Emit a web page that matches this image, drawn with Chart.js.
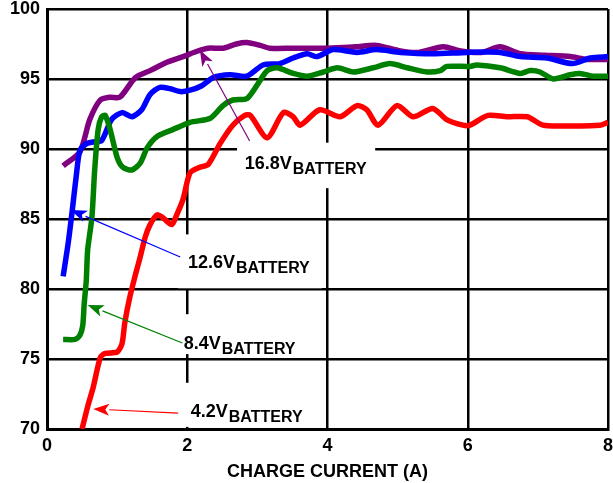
<!DOCTYPE html>
<html>
<head>
<meta charset="utf-8">
<script src="https://cdn.jsdelivr.net/npm/chart.js@4"></script>
<style>
  body { margin: 0; background: #fff; }
</style>
</head>
<body>
<canvas id="chart" width="613" height="483"></canvas>
<script>
// efficiency (%) vs charge current (A)
const xTicks = [0, 2, 4, 6, 8];
const yTicks = [70, 75, 80, 85, 90, 95, 100];

const current168 = [0.23, 0.47, 0.61, 0.76, 0.9, 1.04, 1.26, 1.47, 1.71, 1.94, 2.15, 2.3, 2.51, 2.7, 2.85, 3.04, 3.18, 3.5, 4.0, 4.4, 4.7, 5.04, 5.3, 5.65, 5.9, 6.2, 6.46, 6.75, 7.1, 7.46, 7.7, 8.0];
const eff168 = [88.8, 89.8, 92.1, 93.5, 93.7, 93.7, 95.1, 95.6, 96.2, 96.6, 97.0, 97.2, 97.2, 97.5, 97.6, 97.4, 97.2, 97.2, 97.2, 97.3, 97.4, 97.0, 96.9, 97.3, 97.0, 96.9, 97.3, 96.8, 96.7, 96.6, 96.4, 96.4];

const current126 = [0.23, 0.3, 0.36, 0.42, 0.47, 0.57, 0.66, 0.78, 0.92, 1.07, 1.21, 1.35, 1.47, 1.61, 1.76, 1.9, 2.04, 2.2, 2.37, 2.61, 2.85, 3.08, 3.32, 3.51, 3.71, 3.85, 4.08, 4.42, 4.7, 5.04, 5.5, 6.0, 6.46, 6.75, 7.13, 7.49, 7.75, 8.0];
const eff126 = [80.9, 83.2, 85.6, 88.2, 89.9, 90.4, 90.5, 90.6, 92.1, 92.6, 92.3, 92.8, 93.9, 94.4, 94.3, 94.1, 94.2, 94.5, 95.1, 95.3, 95.2, 96.0, 96.1, 96.5, 96.8, 96.6, 97.1, 96.9, 97.1, 96.9, 96.8, 96.9, 96.9, 96.6, 96.5, 96.1, 96.5, 96.6];

const current84 = [0.23, 0.4, 0.47, 0.51, 0.53, 0.56, 0.58, 0.64, 0.68, 0.73, 0.78, 0.83, 0.9, 1.0, 1.08, 1.21, 1.33, 1.43, 1.57, 1.8, 2.04, 2.33, 2.51, 2.65, 2.85, 3.0, 3.14, 3.28, 3.51, 3.71, 3.94, 4.14, 4.37, 4.65, 4.89, 5.14, 5.42, 5.61, 5.7, 6.03, 6.13, 6.46, 6.75, 6.89, 7.03, 7.22, 7.46, 7.6, 7.79, 8.0];
const eff84 = [76.4, 76.4, 76.7, 77.4, 78.9, 80.6, 82.8, 85.1, 88.5, 91.4, 92.3, 92.4, 91.4, 89.4, 88.7, 88.5, 89.0, 90.1, 90.9, 91.4, 91.9, 92.2, 93.1, 93.5, 93.6, 94.6, 95.6, 95.8, 95.4, 95.2, 95.5, 95.8, 95.5, 95.8, 96.1, 95.8, 95.5, 95.6, 95.9, 95.9, 96.0, 95.8, 95.4, 95.6, 95.5, 95.0, 95.3, 95.4, 95.2, 95.2];

const current42 = [0.5, 0.58, 0.66, 0.76, 0.83, 1.0, 1.07, 1.11, 1.18, 1.26, 1.33, 1.4, 1.47, 1.57, 1.65, 1.78, 1.85, 1.94, 2.04, 2.18, 2.3, 2.47, 2.65, 2.82, 2.9, 3.14, 3.37, 3.51, 3.61, 3.89, 4.18, 4.42, 4.56, 4.72, 4.99, 5.22, 5.5, 5.7, 5.93, 6.03, 6.29, 6.56, 6.85, 7.08, 7.89, 8.0];
const eff42 = [70.0, 71.6, 73.0, 75.1, 75.4, 75.5, 76.1, 77.6, 79.4, 81.0, 82.3, 83.7, 84.6, 85.3, 85.1, 84.6, 85.3, 86.4, 88.3, 88.7, 88.9, 90.4, 91.7, 92.4, 92.4, 90.8, 92.6, 92.3, 91.7, 92.8, 92.3, 93.1, 92.8, 91.7, 93.1, 92.3, 92.9, 92.1, 91.7, 91.7, 92.4, 92.3, 92.3, 91.7, 91.7, 91.9];

// callout labels: text, colour, box (data units), text start, arrow tail -> tip
const labelNames = ["16.8V", "12.6V", "8.4V", "4.2V"];
const labelColors = ["#800080", "#0000ff", "#008000", "#ff0000"];
const labelBoxes = [[2.71, 90.45, 4.68, 87.2], [1.87, 83.9, 3.92, 80.05], [1.87, 78.2, 3.75, 75.35], [1.9, 73.3, 3.8, 70.15]];
const labelAnchors = [[2.82, 88.57], [2.01, 81.5], [1.95, 75.7], [2.05, 70.85]];
const arrowTails = [[2.89, 90.57], [1.9, 82.29], [1.93, 76.14], [1.87, 71.14]];
const arrowTips = [[2.18, 97.07], [0.34, 85.64], [0.58, 78.86], [0.66, 71.43]];

function toPoints(xs, ys) {
  return xs.map((x, i) => ({ x: x, y: ys[i] }));
}

function makeSet(label, xs, ys, color) {
  return {
    label: label,
    data: toPoints(xs, ys),
    borderColor: color,
    borderWidth: 5.5,
    pointRadius: 0,
    tension: 0.25,
    borderJoinStyle: "round",
    fill: false,
  };
}

const calloutPlugin = {
  id: "callouts",
  beforeDatasetsDraw(chart) {
    const ctx = chart.ctx;
    const xs = chart.scales.x, ys = chart.scales.y;
    ctx.save();
    ctx.fillStyle = "#fff";
    labelBoxes.forEach((b) => {
      const x1 = xs.getPixelForValue(b[0]), y1 = ys.getPixelForValue(b[1]);
      const x2 = xs.getPixelForValue(b[2]), y2 = ys.getPixelForValue(b[3]);
      ctx.fillRect(x1, y1, x2 - x1, y2 - y1);
    });
    ctx.restore();
  },
  afterDatasetsDraw(chart) {
    const ctx = chart.ctx;
    const xs = chart.scales.x, ys = chart.scales.y;
    ctx.save();
    labelNames.forEach((name, i) => {
      const tx = xs.getPixelForValue(arrowTails[i][0]), ty = ys.getPixelForValue(arrowTails[i][1]);
      const hx = xs.getPixelForValue(arrowTips[i][0]), hy = ys.getPixelForValue(arrowTips[i][1]);
      const ang = Math.atan2(hy - ty, hx - tx);
      const len = 16, half = 6;
      const bx = hx - Math.cos(ang) * len, by = hy - Math.sin(ang) * len;
      ctx.strokeStyle = labelColors[i];
      ctx.fillStyle = labelColors[i];
      ctx.lineWidth = 1.2;
      ctx.beginPath();
      ctx.moveTo(tx, ty);
      ctx.lineTo(bx, by);
      ctx.stroke();
      ctx.beginPath();
      ctx.moveTo(hx, hy);
      ctx.lineTo(bx + Math.sin(ang) * half, by - Math.cos(ang) * half);
      ctx.lineTo(bx + Math.cos(ang) * 4, by + Math.sin(ang) * 4);
      ctx.lineTo(bx - Math.sin(ang) * half, by + Math.cos(ang) * half);
      ctx.closePath();
      ctx.fill();

      // text with subscript
      const lx = xs.getPixelForValue(labelAnchors[i][0]), ly = ys.getPixelForValue(labelAnchors[i][1]);
      ctx.fillStyle = "#000";
      ctx.textBaseline = "alphabetic";
      ctx.textAlign = "left";
      ctx.font = "bold 18px 'Liberation Sans', Arial, sans-serif";
      ctx.fillText(name, lx, ly);
      const w = ctx.measureText(name).width;
      ctx.font = "bold 16px 'Liberation Sans', Arial, sans-serif";
      ctx.fillText("BATTERY", lx + w + 1, ly + 5);
    });
    ctx.restore();
  },
};

const ctx = document.getElementById("chart").getContext("2d");
new Chart(ctx, {
  type: "line",
  data: {
    datasets: [
      makeSet("4.2V", current42, eff42, "#ff0000"),
      makeSet("8.4V", current84, eff84, "#008000"),
      makeSet("12.6V", current126, eff126, "#0000ff"),
      makeSet("16.8V", current168, eff168, "#800080"),
    ],
  },
  options: {
    responsive: false,
    animation: false,
    devicePixelRatio: 1,
    layout: { padding: { top: 9, right: 5, left: 0, bottom: 0 } },
    plugins: { legend: { display: false }, tooltip: { enabled: false } },
    scales: {
      x: {
        type: "linear",
        min: 0,
        max: 8,
        afterFit: (s) => {
          s.height = 54;
          s.paddingLeft = 0;
          s.paddingRight = 0;
        },
        afterBuildTicks: (s) => { s.ticks = xTicks.map((v) => ({ value: v })); },
        ticks: {
          color: "#000",
          padding: 8,
          font: { family: "'Liberation Sans', Arial, sans-serif", size: 18, weight: "bold", lineHeight: 1 },
        },
        grid: { color: "#000", lineWidth: 2.5, drawTicks: false },
        border: { color: "#000", width: 3 },
        title: {
          display: true,
          text: "CHARGE CURRENT (A)",
          color: "#000",
          padding: { top: 0, bottom: 0 },
          font: { family: "'Liberation Sans', Arial, sans-serif", size: 18, weight: "bold" },
        },
      },
      y: {
        min: 70,
        max: 100,
        afterFit: (s) => {
          s.width = 47;
          s.paddingTop = 0;
          s.paddingBottom = 0;
        },
        afterBuildTicks: (s) => { s.ticks = yTicks.map((v) => ({ value: v })); },
        ticks: {
          color: "#000",
          padding: 7,
          font: { family: "'Liberation Sans', Arial, sans-serif", size: 18, weight: "bold", lineHeight: 1 },
        },
        grid: { color: "#000", lineWidth: 2.5, drawTicks: false },
        border: { color: "#000", width: 3 },
      },
    },
  },
  plugins: [calloutPlugin],
});
</script>
</body>
</html>
